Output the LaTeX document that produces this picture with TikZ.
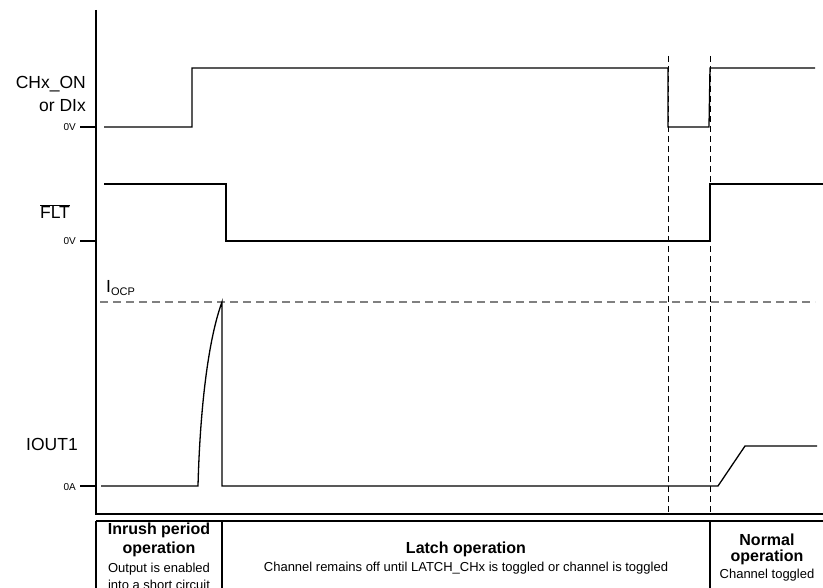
\documentclass[tikz,border=0pt]{standalone}
\usepackage{fontspec}
\setmainfont{Liberation Sans}
\begin{document}
\begin{tikzpicture}[x=1pt,y=-1pt,
  sig/.style={line width=1.3pt},
  axisline/.style={line width=2pt},
  tblline/.style={line width=2.6pt},
  marker/.style={line width=0.9pt,dash pattern=on 6pt off 4pt},
  lbl/.style={font=\fontsize{17.5}{20}\selectfont,inner sep=0pt},
  zero/.style={font=\fontsize{10}{12}\selectfont,inner sep=0pt,anchor=base east},
  head/.style={font=\bfseries\fontsize{16}{19}\selectfont,inner sep=0pt,anchor=base},
  note/.style={font=\fontsize{13}{15}\selectfont,inner sep=0pt,anchor=base}]
  \useasboundingbox (0,0) rectangle (823,588);
  % levels
  \pgfmathsetmacro{\onhi}{68}
  \pgfmathsetmacro{\onlo}{127}
  \pgfmathsetmacro{\flthi}{184}
  \pgfmathsetmacro{\fltlo}{241}
  \pgfmathsetmacro{\ocp}{302}
  \pgfmathsetmacro{\ilo}{486}
  % axis and ticks
  \draw[axisline] (96,10) -- (96,514) -- (823,514);
  \foreach \Y in {\onlo,\fltlo,\ilo} {%
    \draw[axisline] (80,\Y) -- (96,\Y);
  }
  % signal names
  \node[lbl,anchor=base east] (chon) at (86,89) {CHx\_ON};
  \node[lbl,anchor=base east] (dix) at (86,112) {or DIx};
  \node[zero] (zon) at (76,131) {0V};
  \node[lbl,anchor=base] (flt) at (55,219) {$\overline{\hbox{FLT}}$};
  \node[zero] (zflt) at (76,245) {0V};
  \node[lbl,anchor=base west] (iocp) at (106,293) {I\textsubscript{\fontsize{11}{12}\selectfont OCP}};
  \node[lbl,anchor=base west] (iout) at (26,450) {IOUT1};
  \node[zero] (zi) at (76,490) {0A};
  % waveforms
  \draw[sig] (104,\onlo) -- (192,\onlo) -- (192,\onhi) -- (668,\onhi) -- (668,\onlo)
    -- (709,\onlo) -- (710,\onhi) -- (815,\onhi);
  \draw[sig] (104,\flthi) -- (226,\flthi) -- (226,\fltlo) -- (710,\fltlo) -- (710,\flthi) -- (823,\flthi);
  \draw[line width=1.3pt,gray,dash pattern=on 8pt off 5pt] (100,\ocp) -- (815,\ocp);
  \draw[sig] (101,\ilo) -- (198,\ilo) .. controls (200,410) and (208,340) .. (222,\ocp)
    -- (222,\ilo) -- (718,\ilo) -- (745,446) -- (817,446);
  % event markers
  \draw[marker] (668,56) -- (668,514);
  \draw[marker] (710,56) -- (710,514);
  % table
  \draw[tblline] (96,521) -- (823,521);
  \foreach \X in {96,222,710} {%
    \draw[tblline] (\X,521) -- (\X,600);
  }
  \node[head] (inr1) at (159,534) {Inrush period};
  \node[head] (inr2) at (159,553) {operation};
  \node[note] (inr3) at (159,572) {Output is enabled};
  \node[note] (inr4) at (159,589) {into a short circuit};
  \node[head] (lat1) at (466,553) {Latch operation};
  \node[note] (lat2) at (466,571) {Channel remains off until LATCH\_CHx is toggled or channel is toggled};
  \node[head] (nor1) at (767,545) {Normal};
  \node[head] (nor2) at (767,561) {operation};
  \node[note] (nor3) at (767,578) {Channel toggled};
\end{tikzpicture}
\end{document}
